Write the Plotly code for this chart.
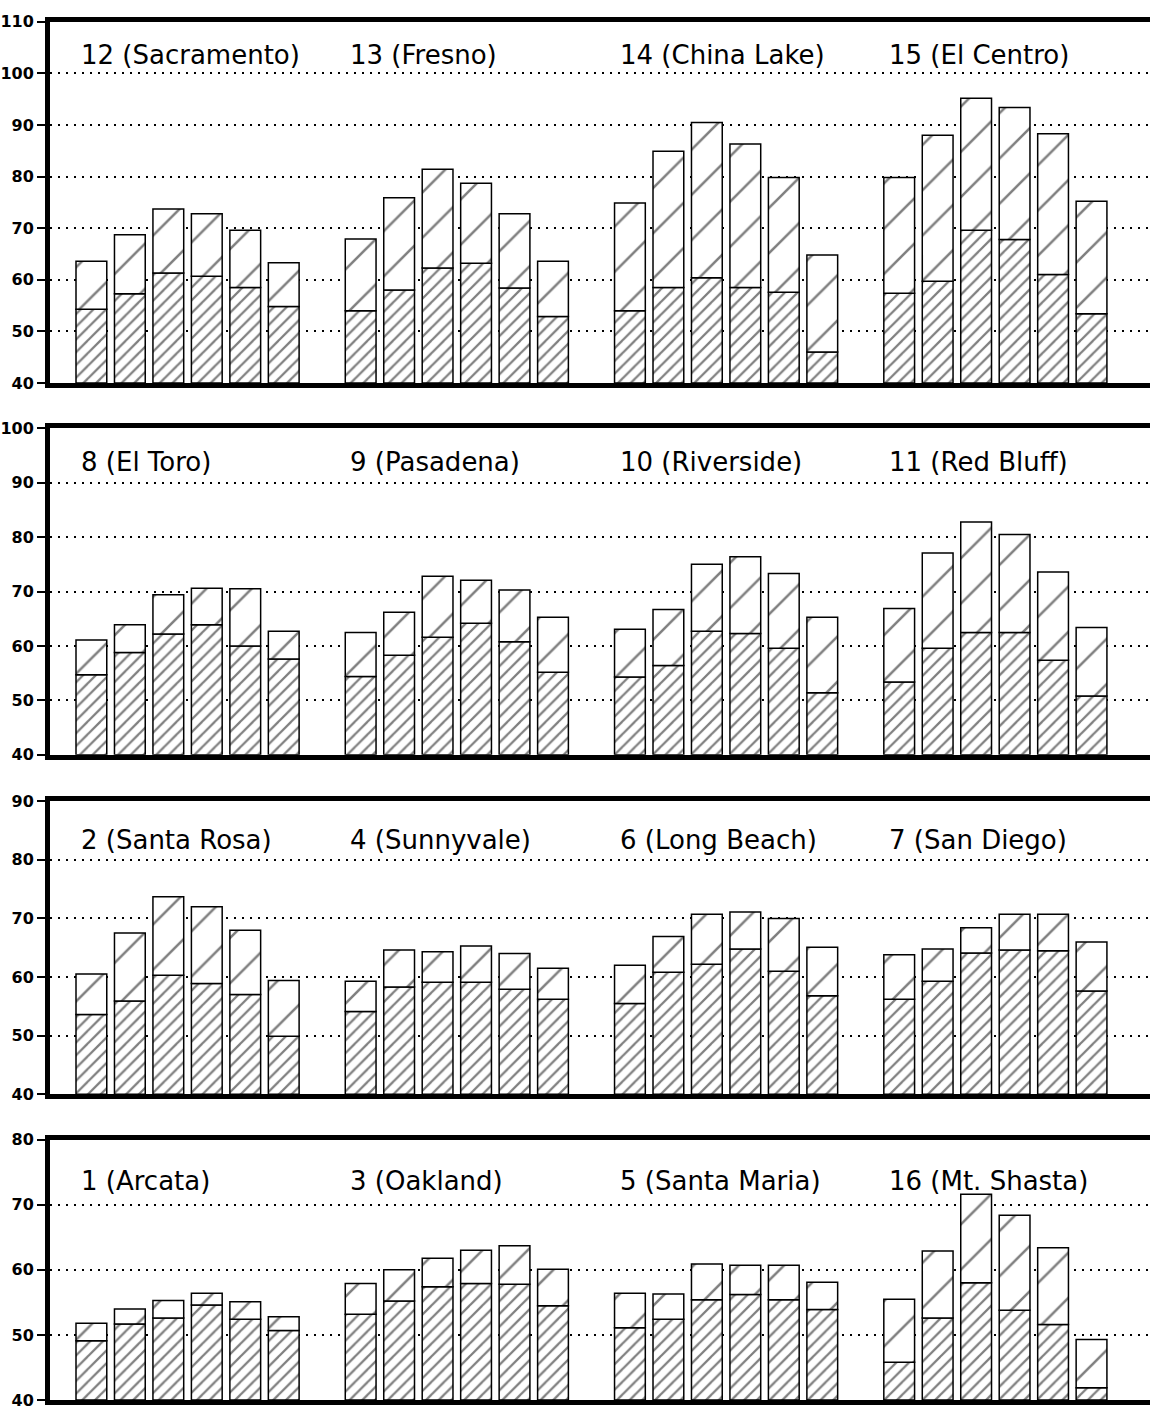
import plotly.graph_objects as go

# ---------------- data ----------------
panel_names = [
    ["12 (Sacramento)", "13 (Fresno)", "14 (China Lake)", "15 (El Centro)"],
    ["8 (El Toro)", "9 (Pasadena)", "10 (Riverside)", "11 (Red Bluff)"],
    ["2 (Santa Rosa)", "4 (Sunnyvale)", "6 (Long Beach)", "7 (San Diego)"],
    ["1 (Arcata)", "3 (Oakland)", "5 (Santa Maria)", "16 (Mt. Shasta)"],
]

# lower (dense hatch) segment tops
lower_p1 = [[54.3, 57.3, 61.3, 60.7, 58.5, 54.8],
            [54.0, 58.0, 62.3, 63.2, 58.4, 52.9],
            [54.0, 58.5, 60.4, 58.5, 57.6, 46.0],
            [57.4, 59.7, 69.6, 67.8, 61.0, 53.4]]
upper_p1 = [[63.6, 68.7, 73.7, 72.8, 69.6, 63.3],
            [67.9, 75.9, 81.4, 78.7, 72.8, 63.6],
            [74.9, 84.9, 90.5, 86.3, 79.8, 64.8],
            [79.8, 88.0, 95.2, 93.4, 88.3, 75.2]]

lower_p2 = [[54.7, 58.8, 62.2, 63.9, 60.0, 57.6],
            [54.4, 58.3, 61.6, 64.2, 60.8, 55.2],
            [54.3, 56.4, 62.7, 62.3, 59.6, 51.4],
            [53.4, 59.6, 62.5, 62.5, 57.4, 50.8]]
upper_p2 = [[61.1, 63.9, 69.4, 70.6, 70.5, 62.7],
            [62.5, 66.2, 72.8, 72.1, 70.3, 65.3],
            [63.1, 66.7, 75.0, 76.4, 73.3, 65.3],
            [66.9, 77.1, 82.8, 80.5, 73.6, 63.4]]

lower_p3 = [[53.6, 55.9, 60.3, 58.9, 57.0, 49.9],
            [54.1, 58.3, 59.1, 59.1, 57.9, 56.2],
            [55.5, 60.8, 62.2, 64.8, 61.0, 56.8],
            [56.2, 59.3, 64.1, 64.6, 64.5, 57.6]]
upper_p3 = [[60.5, 67.5, 73.7, 72.0, 68.0, 59.4],
            [59.3, 64.6, 64.3, 65.3, 64.0, 61.5],
            [62.0, 66.9, 70.7, 71.1, 70.0, 65.1],
            [63.8, 64.8, 68.4, 70.7, 70.7, 66.0]]

lower_p4 = [[49.1, 51.7, 52.6, 54.6, 52.4, 50.7],
            [53.2, 55.2, 57.4, 57.9, 57.8, 54.5],
            [51.1, 52.4, 55.4, 56.2, 55.4, 53.9],
            [45.8, 52.6, 58.0, 53.8, 51.6, 41.9]]
upper_p4 = [[51.8, 54.0, 55.3, 56.4, 55.1, 52.8],
            [57.9, 60.0, 61.8, 63.0, 63.7, 60.1],
            [56.4, 56.3, 60.9, 60.7, 60.7, 58.1],
            [55.5, 62.9, 71.6, 68.4, 63.4, 49.3]]

lowers = [lower_p1, lower_p2, lower_p3, lower_p4]
uppers = [upper_p1, upper_p2, upper_p3, upper_p4]
y_max = [110, 100, 90, 80]
y_min = 40

# ---------------- layout geometry ----------------
W, H = 1150, 1416
panel_px = [(13, 379), (425, 756), (803, 1100), (1146, 1410)]  # top, bottom pixels
label_shift = [-33, -34, -39, -41]

fig = go.Figure()

dense = dict(shape="/", size=9, solidity=0.25, fgcolor="black", bgcolor="white")
sparse = dict(shape="/", size=32, solidity=0.08, fgcolor="black", bgcolor="white")

for p in range(4):
    ax = "" if p == 0 else str(p + 1)
    xs, base_lo, h_lo, base_up, h_up = [], [], [], [], []
    for g in range(4):
        for i in range(6):
            xs.append(g * 7 + i)
            lo = lowers[p][g][i]
            up = uppers[p][g][i]
            base_lo.append(y_min)
            h_lo.append(lo - y_min)
            base_up.append(lo)
            h_up.append(up - lo)
    fig.add_trace(go.Bar(
        x=xs, y=h_lo, base=base_lo, width=0.8,
        marker=dict(color="white", line=dict(color="black", width=1.5), pattern=dense),
        xaxis="x" + ax, yaxis="y" + ax, showlegend=False, hoverinfo="skip"))
    fig.add_trace(go.Bar(
        x=xs, y=h_up, base=base_up, width=0.8,
        marker=dict(color="white", line=dict(color="black", width=1.5), pattern=sparse),
        xaxis="x" + ax, yaxis="y" + ax, showlegend=False, hoverinfo="skip"))

    top, bot = panel_px[p]
    dom = [1 - bot / H, 1 - top / H]
    xa = dict(domain=[0, 1], range=[-1.076, 27.52], showline=True, linewidth=5,
              linecolor="black", mirror=True, showgrid=False, zeroline=False,
              showticklabels=False, ticks="", anchor="y" + ax, fixedrange=True)
    ya = dict(domain=dom, range=[y_min, y_max[p]], showline=True, linewidth=5,
              linecolor="black", mirror=False, dtick=10, tick0=0,
              ticks="outside", ticklen=8, tickwidth=2, tickcolor="black",
              showgrid=True, gridcolor="black", gridwidth=2, griddash="2px,6px",
              zeroline=False, anchor="x" + ax,
              tickfont=dict(family="DejaVu Sans", size=16, color="black", weight="bold"),
              fixedrange=True)
    fig.layout["xaxis" + ax] = xa
    fig.layout["yaxis" + ax] = ya

    for g in range(4):
        fig.add_annotation(
            text=panel_names[p][g], xref="x" + ax, yref="y" + ax + " domain",
            x=g * 7 - 0.4, y=1, xanchor="left", yanchor="middle",
            xshift=3, yshift=label_shift[p], showarrow=False,
            font=dict(family="DejaVu Sans", size=26, color="black"))

fig.update_layout(
    width=W, height=H, barmode="overlay",
    margin=dict(l=50, r=0, t=0, b=0),
    paper_bgcolor="white", plot_bgcolor="white",
)

fig.write_html("out.html", config={"displayModeBar": False},
               post_script="document.body.style.margin='0';")
